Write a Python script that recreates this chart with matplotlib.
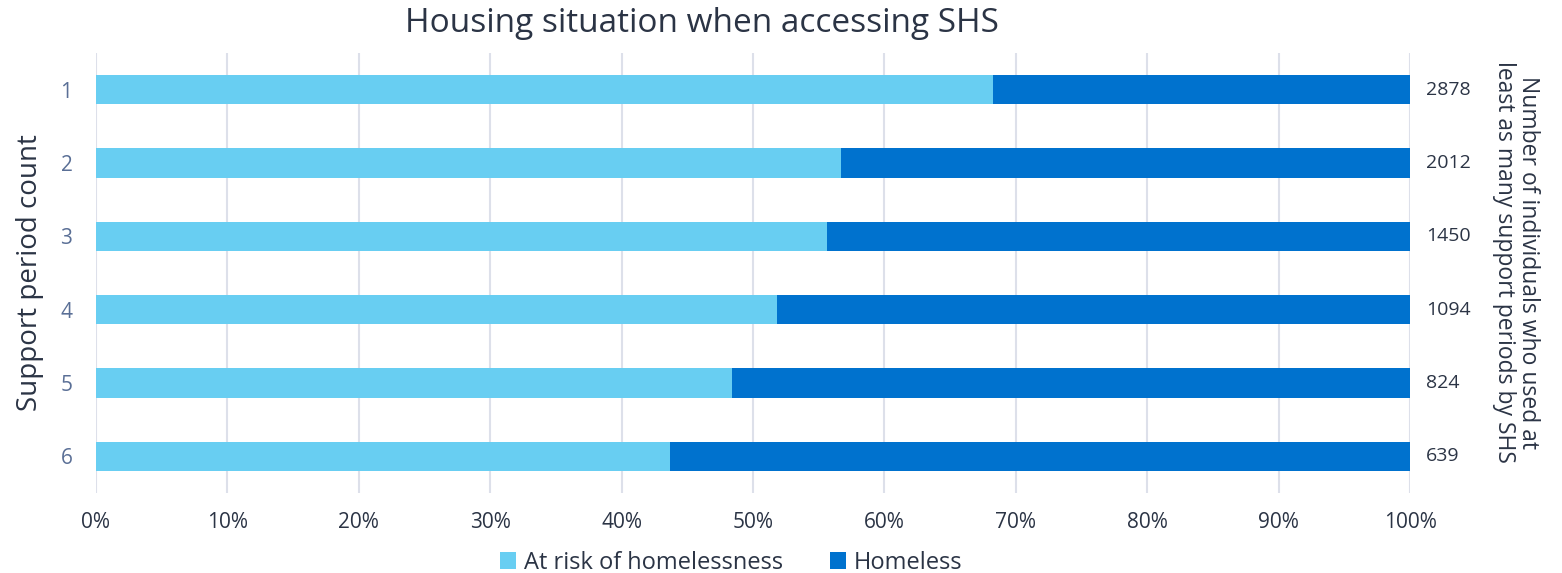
import numpy as np
import matplotlib.pyplot as plt
from matplotlib.ticker import PercentFormatter

plt.rcParams['font.family'] = ['Open Sans', 'DejaVu Sans']

periods = ['1', '2', '3', '4', '5', '6']
at_risk = [68.3, 56.7, 55.6, 51.8, 48.4, 43.7]
homeless = [100 - v for v in at_risk]
counts = [2878, 2012, 1450, 1094, 824, 639]

light = '#68CEF2'
dark = '#0072CE'
text_col = '#2B3445'

fig = plt.figure(figsize=(15.62, 5.73), dpi=100)
ax = fig.add_axes([96 / 1562, 1 - 493 / 573, 1314 / 1562, 440 / 573])

y = np.arange(len(periods))
ax.barh(y, at_risk, height=0.4, color=light, label='At risk of homelessness')
ax.barh(y, homeless, left=at_risk, height=0.4, color=dark, label='Homeless')

ax.set_xlim(0, 100)
ax.set_ylim(len(periods) - 0.5, -0.5)
ax.set_yticks(y)
ax.set_yticklabels(periods)
ax.set_xticks(np.arange(0, 101, 10))
ax.xaxis.set_major_formatter(PercentFormatter(decimals=0))
ax.grid(axis='x', color='#DDE0EA', linewidth=1.5)
ax.set_axisbelow(True)
for s in ax.spines.values():
    s.set_visible(False)
ax.tick_params(axis='both', length=0, labelsize=15, colors=text_col)
ax.tick_params(axis='y', pad=17, labelcolor='#5A6F96')
ax.tick_params(axis='x', pad=14)

ax.set_ylabel('Support period count', fontsize=20, color=text_col, labelpad=12)
fig.text(702 / 1562, 1 - 24 / 573, 'Housing situation when accessing SHS',
         ha='center', va='center', fontsize=24, color=text_col)

for yi, c in zip(y, counts):
    ax.text(101.2, yi, str(c), va='center', ha='left', fontsize=14, color=text_col)

fig.text(1516 / 1562, 1 - 262 / 573,
         'Number of individuals who used at\nleast as many support periods by SHS',
         rotation=-90, ha='center', va='center', fontsize=16.5, color=text_col,
         linespacing=0.95)

fig.legend(loc='center', bbox_to_anchor=(731 / 1562, 1 - 563 / 573), ncol=2, frameon=False,
           fontsize=17, handlelength=0.7, handleheight=0.7, handletextpad=0.3,
           columnspacing=2.0, labelcolor=text_col, borderaxespad=0, borderpad=0)

fig.savefig('out.png', dpi=100)
